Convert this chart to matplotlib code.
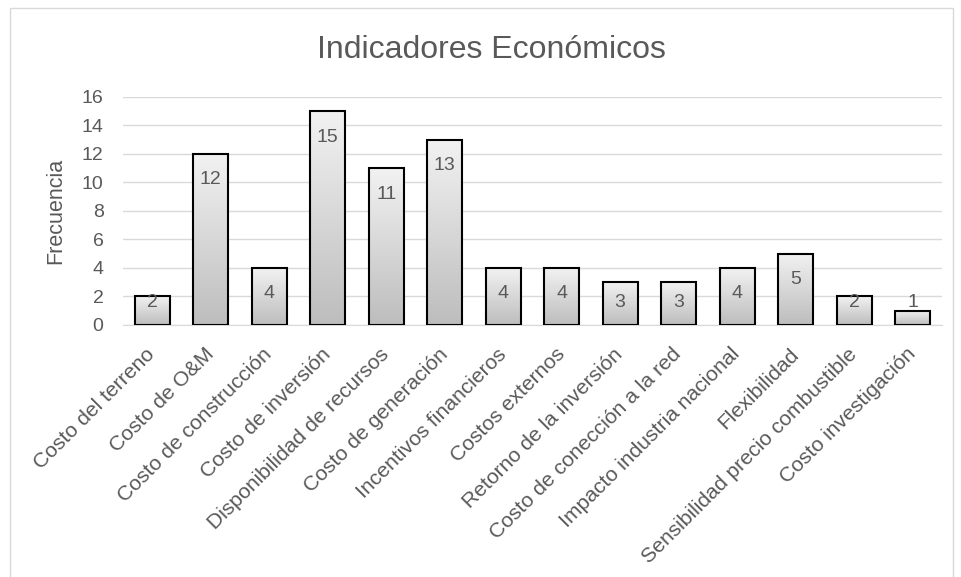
import numpy as np
from matplotlib import pyplot as plt
from matplotlib.colors import LinearSegmentedColormap
from matplotlib.patches import Rectangle

categorias = ["Costo del terreno", "Costo de O&M", "Costo de construcción",
              "Costo de inversión", "Disponibilidad de recursos",
              "Costo de generación", "Incentivos financieros",
              "Costos externos", "Retorno de la inversión",
              "Costo de conección a la red", "Impacto industria nacional",
              "Flexibilidad", "Sensibilidad precio combustible",
              "Costo investigación"]
frecuencia = [2, 12, 4, 15, 11, 13, 4, 4, 3, 3, 4, 5, 2, 1]

plt.rcParams['font.family'] = ['Liberation Sans', 'DejaVu Sans']
gris = "#595959"

fig = plt.figure(figsize=(9.61, 5.77), dpi=100)
ax = fig.add_axes([0.128, 0.437, 0.852, 0.395])

x = np.arange(len(categorias))
bars = ax.bar(x, frecuencia, width=0.6, facecolor="none",
              edgecolor="black", linewidth=1.5, zorder=3)

# degradado vertical en cada barra
cmap = LinearSegmentedColormap.from_list("g", ["#bdbdbd", "#f2f2f2"])
grad = np.linspace(0, 1, 256).reshape(-1, 1)
for b in bars:
    x0, w, h = b.get_x(), b.get_width(), b.get_height()
    ax.imshow(grad, cmap=cmap, aspect="auto", origin="lower",
              extent=[x0, x0 + w, 0, h], zorder=2)

# etiquetas dentro del extremo, sin bajar del eje
for xi, v in zip(x, frecuencia):
    ax.text(xi, max(v - 1.82, 1.6), str(v), ha="center", va="center",
            fontsize=14, color=gris, zorder=4)

ax.set_xlim(-0.5, len(categorias) - 0.5)
ax.set_ylim(0, 16)
ax.set_yticks(range(0, 17, 2))
ax.set_xticks(x)
ax.set_xticklabels(categorias, rotation=45, ha="right", va="center",
                   rotation_mode="anchor", fontsize=15.2, color=gris)
ax.tick_params(axis="y", labelsize=14, colors=gris, length=0, pad=14)
ax.tick_params(axis="x", length=0, pad=19)
ax.grid(axis="y", color="#d9d9d9", linewidth=1, zorder=0)
for s in ["top", "right", "left"]:
    ax.spines[s].set_visible(False)
ax.spines["bottom"].set_color("#d9d9d9")

ax.set_ylabel("Frecuencia", fontsize=15.5, color=gris)
ax.yaxis.set_label_coords(-(123 - 66) / (0.852 * 961), 0.5)
fig.text(0.511, 1 - 58 / 577, "Indicadores Económicos", ha="center",
         va="baseline", fontsize=23, color=gris)

fig.patches.append(Rectangle((10 / 961, -0.01), 943 / 961, 1.0 - 8 / 577 + 0.01,
                             transform=fig.transFigure, fill=False,
                             edgecolor="#d9d9d9", linewidth=1))

fig.savefig("out.png", dpi=100)
